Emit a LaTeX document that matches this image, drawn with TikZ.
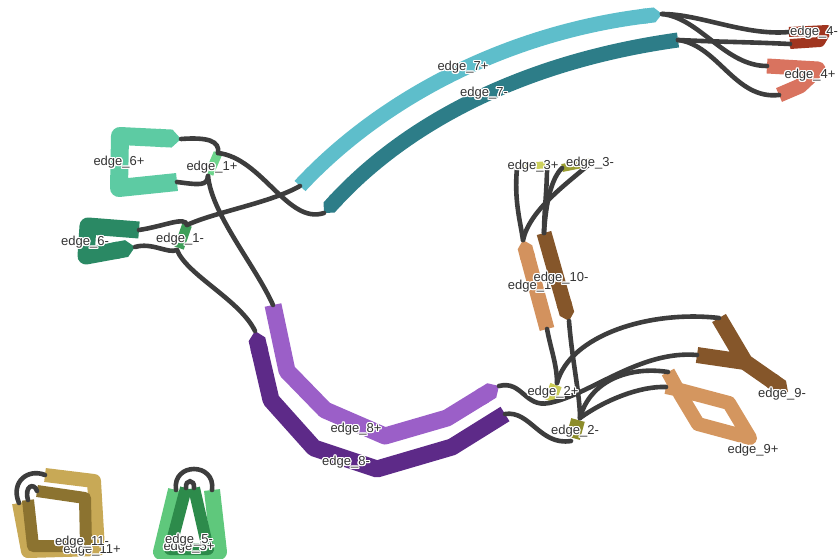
\documentclass[tikz,border=0pt]{standalone}
\usepackage{fontspec}
\setmainfont{Liberation Sans}
\usepackage[copies]{contour}
\usetikzlibrary{arrows.meta}
\contourlength{1.2pt}

\definecolor{linkgray}{HTML}{3D3D3D}
\definecolor{labelgray}{HTML}{333333}
\definecolor{c7p}{HTML}{5EBECB}
\definecolor{c7m}{HTML}{2D7D88}
\definecolor{c4m}{HTML}{A0351F}
\definecolor{c4p}{HTML}{D9735F}
\definecolor{c6p}{HTML}{5DCBA3}
\definecolor{c6m}{HTML}{2A8964}
\definecolor{c1p}{HTML}{6DD58C}
\definecolor{c1m}{HTML}{3E9E59}
\definecolor{c8p}{HTML}{9B5FC8}
\definecolor{c8m}{HTML}{5D2A88}
\definecolor{c10p}{HTML}{D3925E}
\definecolor{c10m}{HTML}{85562A}
\definecolor{c9p}{HTML}{D4965F}
\definecolor{c9m}{HTML}{85562A}
\definecolor{c3p}{HTML}{CDD15C}
\definecolor{c3m}{HTML}{9A9E32}
\definecolor{c2p}{HTML}{CACB56}
\definecolor{c2m}{HTML}{8C8C2A}
\definecolor{c11p}{HTML}{C8A956}
\definecolor{c11m}{HTML}{8C7330}
\definecolor{c5p}{HTML}{5FC87C}
\definecolor{c5m}{HTML}{2D8B4B}

\newcommand{\lab}[1]{\contour{white}{#1}}

\begin{document}
\begin{tikzpicture}[x=1pt,y=-1pt,
  seg/.style={line width=#1, line join=round},
  pointed/.style={-{Triangle Cap}},
  link/.style={draw=linkgray, line width=4.6pt, line cap=round},
  lbl/.style={text=labelgray, font=\fontsize{13}{15}\selectfont, inner sep=0pt}]
  \useasboundingbox (0,0) rectangle (840,559);

  \coordinate (e7p-a) at (300,186);
  \coordinate (e7p-b) at (662,14);
  \coordinate (e7m-a) at (324,213);
  \coordinate (e7m-b) at (678,40);
  \coordinate (e4m-1) at (789,32);
  \coordinate (e4m-2) at (790,44);
  \coordinate (e4p-1) at (767,66);
  \coordinate (e4p-2) at (779,95);
  \coordinate (e6p-1) at (181,139);
  \coordinate (e6p-2) at (177,182);
  \coordinate (e6m-1) at (139,230);
  \coordinate (e6m-2) at (135,247);
  \coordinate (e1p-1) at (218,153);
  \coordinate (e1p-2) at (208,176);
  \coordinate (e1m-1) at (187,225);
  \coordinate (e1m-2) at (177,250);
  \coordinate (e8p-1) at (273,305);
  \coordinate (e8p-2) at (499,386);
  \coordinate (e8m-1) at (255,331);
  \coordinate (e8m-2) at (505,414);
  \coordinate (e10p-1) at (523,240);
  \coordinate (e10p-2) at (547,329);
  \coordinate (e10m-1) at (544,233);
  \coordinate (e10m-2) at (569,321);
  \coordinate (e3p-1) at (517,168);
  \coordinate (e3p-2) at (547,167);
  \coordinate (e3m-1) at (562,168);
  \coordinate (e3m-2) at (592,162);
  \coordinate (e2p-1) at (557,383);
  \coordinate (e2p-2) at (549,403);
  \coordinate (e2m-1) at (580,418);
  \coordinate (e2m-2) at (571,441);
  \coordinate (e9m-1) at (719,318);
  \coordinate (e9m-2) at (697,355);
  \coordinate (e9p-1) at (668,372);
  \coordinate (e9p-2) at (666,387);
  \coordinate (e11p-1) at (45,475);
  \coordinate (e11p-2) at (19,503);
  \coordinate (e11m-1) at (37,491);
  \coordinate (e11m-2) at (28,500);
  \coordinate (e5p-1) at (176,490);
  \coordinate (e5p-2) at (212,490);
  \coordinate (e5m-1) at (186,488);
  \coordinate (e5m-2) at (194,488);

  \draw[seg=15pt, c7p, pointed] (e7p-a) .. controls (380,100) and (505,33) .. (e7p-b);
  \draw[seg=15pt, c7m, pointed] (e7m-b) .. controls (520,62) and (405,125) .. (e7m-a);
  \draw[seg=10pt, c4m] (e4m-1) -- (827,30) -- (820,42) -- (e4m-2);
  \draw[seg=15pt, c4p] (e4p-1) -- (818,69) -- (800,86) -- (e4p-2);
  \draw[seg=18pt, c6p, pointed] (e6p-2) -- (119,188) -- (120,136) -- (e6p-1);
  \draw[seg=17pt, c6m, pointed] (e6m-1) -- (88,226) -- (86,256) -- (e6m-2);
  \draw[seg=9pt, c1p] (e1p-1) -- (209,174);
  \draw[seg=10pt, c1m] (e1m-1) -- (179,248);
  \draw[seg=17pt, c8p, pointed] (e8p-1) -- (287,371) -- (325,410) -- (385,436) -- (447,418) -- (e8p-2);
  \draw[seg=17pt, c8m, pointed] (e8m-2) -- (452,447) -- (377,469) -- (314,448) -- (271,400) -- (e8m-1);
  \draw[seg=15pt, c10p, pointed] (e10p-2) -- (e10p-1);
  \node[lbl] (l10p) at (537,287) {\lab{edge\_10+}};
  \draw[seg=15pt, c10m, pointed] (e10m-1) -- (e10m-2);
  \draw[seg=7pt, c3p] (520,166) -- (546,165);
  \draw[seg=8pt, c3m] (e3m-1) -- (e3m-2);
  \draw[seg=12pt, c2p] (556,385) -- (550,401);
  \draw[seg=14pt, c2m] (578,420) -- (573,438);
  \draw[seg=16pt, c9m, pointed] (e9m-2) -- (745,362) -- (e9m-1) (745,362) -- (788,392);
  \draw[seg=14pt, c9p] (e9p-1) -- (680,394) -- (698,424) -- (750,438) -- (729,403) -- (680,390) -- (e9p-2);
  \draw[seg=14pt, c11p] (e11p-1) -- (94,481) -- (98,549) -- (28,551) -- (e11p-2);
  \draw[seg=12pt, c11m] (e11m-1) -- (85,498) -- (86,546) -- (33,546) -- (e11m-2);
  \draw[seg=16pt, c5p] (e5p-1) -- (161,552) -- (219,552) -- (e5p-2);
  \draw[seg=12pt, c5m] (e5m-1) -- (170,549) -- (208,549) -- (e5m-2);

  \draw[link] (e6p-1) .. controls (208,137) and (220,141) .. (e1p-1);
  \draw[link] (e1p-1) .. controls (262,158) and (288,225) .. (e7m-a);
  \draw[link] (e6p-2) .. controls (200,185) and (207,186) .. (e1p-2);
  \draw[link] (e1p-2) .. controls (212,215) and (255,265) .. (e8p-1);
  \draw[link] (e6m-1) .. controls (165,226) and (185,216) .. (e1m-1);
  \draw[link] (e1m-1) .. controls (215,212) and (270,203) .. (e7p-a);
  \draw[link] (e6m-2) .. controls (152,242) and (168,254) .. (e1m-2);
  \draw[link] (e1m-2) .. controls (187,275) and (240,300) .. (e8m-1);
  \draw[link] (e7p-b) .. controls (700,14) and (745,36) .. (e4m-1);
  \draw[link] (e7p-b) .. controls (700,18) and (725,66) .. (e4p-1);
  \draw[link] (e7m-b) .. controls (720,42) and (750,42) .. (e4m-2);
  \draw[link] (e7m-b) .. controls (718,45) and (735,100) .. (e4p-2);
  \draw[link] (e3p-1) .. controls (514,200) and (520,220) .. (e10p-1);
  \draw[link] (e3p-2) .. controls (547,190) and (544,212) .. (e10m-1);
  \draw[link] (e3m-1) .. controls (552,178) and (546,200) .. (e10m-1);
  \draw[link] (e3m-2) .. controls (565,185) and (530,210) .. (e10p-1);
  \draw[link] (e10p-2) .. controls (551,350) and (557,365) .. (e2p-1);
  \draw[link] (e10m-2) .. controls (572,360) and (580,395) .. (e2m-1);
  \draw[link] (e8p-2) .. controls (522,380) and (525,408) .. (e2p-2);
  \draw[link] (e8m-2) .. controls (530,410) and (540,446) .. (e2m-2);
  \draw[link] (e2p-1) .. controls (570,335) and (650,310) .. (e9m-1);
  \draw[link] (e2p-2) .. controls (590,395) and (640,350) .. (e9m-2);
  \draw[link] (e2m-1) .. controls (590,380) and (630,366) .. (e9p-1);
  \draw[link] (e2m-1) .. controls (605,400) and (640,386) .. (e9p-2);
  \draw[link] (e11p-2) .. controls (10,482) and (28,468) .. (e11p-1);
  \draw[link] (e11m-2) .. controls (24,486) and (34,482) .. (e11m-1);
  \draw[link] (e5p-1) .. controls (172,462) and (216,462) .. (e5p-2);
  \draw[link] (e5m-1) .. controls (185,479) and (195,479) .. (e5m-2);

  \node[lbl] (l7p) at (463,68) {\lab{edge\_7+}};
  \node[lbl] (l7m) at (484,94) {\lab{edge\_7-}};
  \node[lbl] (l4m) at (814,33) {\lab{edge\_4-}};
  \node[lbl] (l4p) at (810,76) {\lab{edge\_4+}};
  \node[lbl] (l6p) at (119,163) {\lab{edge\_6+}};
  \node[lbl] (l6m) at (85,243) {\lab{edge\_6-}};
  \node[lbl] (l1p) at (212,168) {\lab{edge\_1+}};
  \node[lbl] (l1m) at (180,240) {\lab{edge\_1-}};
  \node[lbl] (l8p) at (356,430) {\lab{edge\_8+}};
  \node[lbl] (l8m) at (346,463) {\lab{edge\_8-}};
  \node[lbl] (l10m) at (561,279) {\lab{edge\_10-}};
  \node[lbl] (l3p) at (533,167) {\lab{edge\_3+}};
  \node[lbl] (l3m) at (590,164) {\lab{edge\_3-}};
  \node[lbl] (l2p) at (553,393) {\lab{edge\_2+}};
  \node[lbl] (l2m) at (575,432) {\lab{edge\_2-}};
  \node[lbl] (l9m) at (782,395) {\lab{edge\_9-}};
  \node[lbl] (l9p) at (753,451) {\lab{edge\_9+}};
  \node[lbl] (l11p) at (92,551) {\lab{edge\_11+}};
  \node[lbl] (l11m) at (82,543) {\lab{edge\_11-}};
  \node[lbl] (l5p) at (189,548) {\lab{edge\_5+}};
  \node[lbl] (l5m) at (189,541) {\lab{edge\_5-}};
\end{tikzpicture}
\end{document}
